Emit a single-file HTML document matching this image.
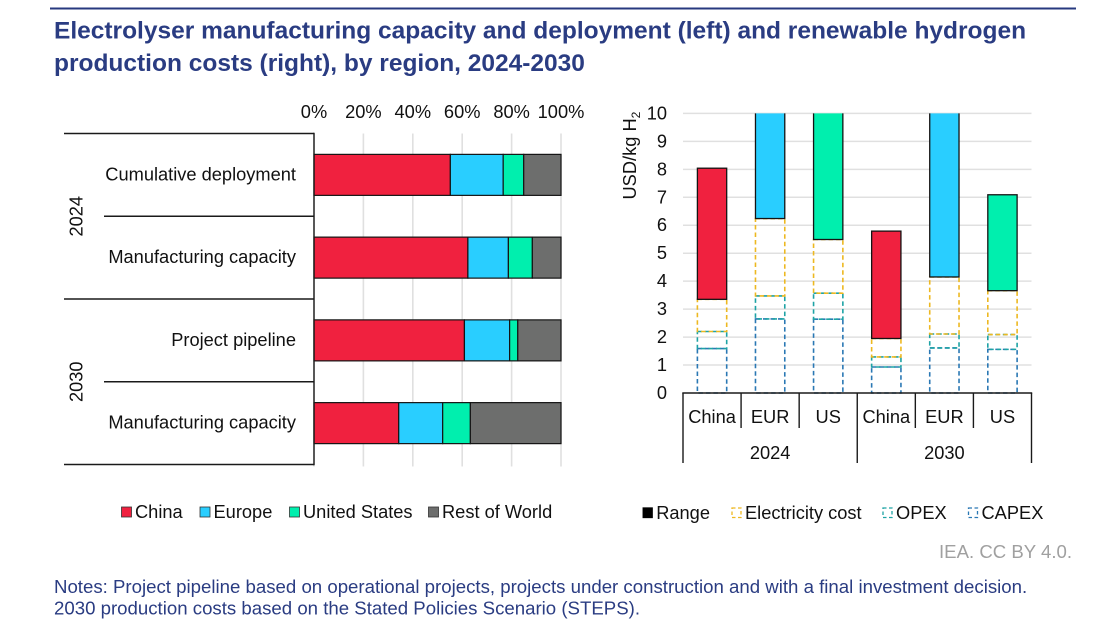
<!DOCTYPE html>
<html lang="en">
<head>
<meta charset="utf-8">
<title>Electrolyser manufacturing capacity and renewable hydrogen costs</title>
<style>
html,body{margin:0;padding:0;background:#fff;}
body{width:1108px;height:643px;overflow:hidden;}
svg{display:block;font-family:"Liberation Sans",Arial,sans-serif;}
text{fill:#111;font-size:18.25px;}
</style>
</head>
<body>
<svg id="root" width="1108" height="643" viewBox="0 0 1108 643" xmlns="http://www.w3.org/2000/svg">
  <line x1="50" y1="8.5" x2="1076" y2="8.5" stroke="#27397f" stroke-width="2"/>
  <text x="54" y="38.5" style="font-size:24.5px;font-weight:bold;fill:#2a3c82">Electrolyser manufacturing capacity and deployment (left) and renewable hydrogen</text>
  <text x="54" y="71" style="font-size:24.5px;font-weight:bold;fill:#2a3c82">production costs (right), by region, 2024-2030</text>
  <g id="left-chart"></g>
  <g id="right-chart"></g>
  <text x="1072" y="558" text-anchor="end" style="font-size:18.6px;fill:#a0a0a0">IEA. CC BY 4.0.</text>
  <text x="54" y="593" style="font-size:18.64px;fill:#2a3c82">Notes: Project pipeline based on operational projects, projects under construction and with a final investment decision.</text>
  <text x="54" y="614.5" style="font-size:18.64px;fill:#2a3c82">2030 production costs based on the Stated Policies Scenario (STEPS).</text>
</svg>
<script>
// ---- Left chart data (percent share) ----
var shareCategories = ['Cumulative deployment', 'Manufacturing capacity', 'Project pipeline', 'Manufacturing capacity'];
var shareYears = ['2024', '2030'];
var shareTicks = [0, 20, 40, 60, 80, 100];
var shareRegions = ['China', 'Europe', 'United States', 'Rest of World'];
var shareChina = [55.2, 62.3, 60.9, 34.3];
var shareEurope = [21.4, 16.4, 18.3, 17.8];
var shareUS = [8.3, 9.7, 3.3, 11.2];
var shareRest = [15.1, 11.6, 17.5, 36.7];

// ---- Right chart data (USD/kg H2) ----
var costRegions = ['China', 'EUR', 'US', 'China', 'EUR', 'US'];
var costYears = ['2024', '2030'];
var costTicks = [0, 1, 2, 3, 4, 5, 6, 7, 8, 9, 10];
var costCapex = [1.59, 2.65, 2.64, 0.93, 1.61, 1.56];
var costOpex = [0.61, 0.82, 0.93, 0.36, 0.50, 0.53];
var costElectricity = [1.15, 2.77, 1.92, 0.66, 2.04, 1.57];
var costRange = [4.69, 6.5, 7.0, 3.84, 8.5, 3.43];

var NS = 'http://www.w3.org/2000/svg';
var regionColors = ['#f0213f', '#29ceff', '#00efae', '#6d6e6d'];
var rangeColors = ['#f0213f', '#29ceff', '#00efae', '#f0213f', '#29ceff', '#00efae'];

function make(parent, tag, attrs, content) {
  var el = document.createElementNS(NS, tag);
  for (var k in attrs) el.setAttribute(k, attrs[k]);
  if (content !== undefined) el.textContent = content;
  parent.appendChild(el);
  return el;
}

// ---------- LEFT CHART ----------
var L = document.getElementById('left-chart');
var lx0 = 314, lx1 = 561, ly0 = 133.5, ly1 = 464.5;
function xShare(v) { return lx0 + (lx1 - lx0) * v / 100; }
var rowH = (ly1 - ly0) / shareCategories.length;
function yRow(i) { return ly0 + rowH * (i + 0.5); }

shareTicks.forEach(function (t) {
  var g = make(L, 'line', {x1: xShare(t), x2: xShare(t), y1: ly0, y2: ly1 + 2, stroke: '#e0e0e0', 'stroke-width': 1.6});
  
  
  var tl = make(L, 'text', {x: xShare(t), y: 118, 'text-anchor': 'middle'}, t + '%');
  
  
});

var shareSeries = [shareChina, shareEurope, shareUS, shareRest];
shareCategories.forEach(function (c, i) {
  var acc = 0;
  shareSeries.forEach(function (s, j) {
    var r = make(L, 'rect', {x: xShare(acc), y: yRow(i) - 20.5, width: xShare(acc + s[i]) - xShare(acc), height: 41, fill: regionColors[j], stroke: '#141414', 'stroke-width': 1.2});
    
    
    acc += s[i];
  });
  var lab = make(L, 'text', {x: 296, y: yRow(i) + 5.5, 'text-anchor': 'end'}, c);
  
  
});

[[64, 0], [104, 1], [64, 2], [104, 3], [64, 4]].forEach(function (p) {
  var y = ly0 + rowH * p[1];
  var ln = make(L, 'line', {x1: p[0], x2: lx0, y1: y, y2: y, stroke: '#1a1a1a', 'stroke-width': 1.4});
  
  
});
var lAxis = make(L, 'line', {x1: lx0, x2: lx0, y1: ly0 - 0.7, y2: ly1 + 0.7, stroke: '#1a1a1a', 'stroke-width': 1.4});



shareYears.forEach(function (yr, i) {
  var cy = ly0 + rowH * (2 * i + 1);
  var t = make(L, 'text', {x: 0, y: 0, 'text-anchor': 'middle', transform: 'translate(82.5,' + cy + ') rotate(-90)'}, yr);
  
  
});

var lLegX = [121.5, 200, 289.5, 428.5];
shareRegions.forEach(function (n, i) {
  var s = make(L, 'rect', {x: lLegX[i], y: 507, width: 10, height: 10, fill: regionColors[i], stroke: '#333', 'stroke-width': 0.8});
  
  
  var t = make(L, 'text', {x: lLegX[i] + 13.5, y: 518}, n);
  
  
});

// ---------- RIGHT CHART ----------
var R = document.getElementById('right-chart');
var rx0 = 683, rx1 = 1031.5, ry0 = 393, ry1 = 113.4, yMax = 10;
var catW = (rx1 - rx0) / costRegions.length;
var barW = 29.3;
function yCost(v) { return ry0 + (ry1 - ry0) * Math.min(v, yMax) / yMax; }
function xCat(i) { return rx0 + catW * (i + 0.5); }

var defs = make(R, 'defs', {});
var cp = make(defs, 'clipPath', {id: 'plot-clip'});
make(cp, 'rect', {x: rx0, y: ry1, width: rx1 - rx0, height: ry0 - ry1 + 2});

costTicks.forEach(function (t) {
  if (t > 0) {
    var g = make(R, 'line', {x1: rx0, x2: rx1, y1: yCost(t), y2: yCost(t), stroke: '#e0e0e0', 'stroke-width': 1.5});
    
    
  }
  var tl = make(R, 'text', {x: 667, y: yCost(t) + 6, 'text-anchor': 'end'}, String(t));
  
  
});

var yTitle = make(R, 'text', {x: 0, y: 0, transform: 'translate(636,199.5) rotate(-90)'});


make(yTitle, 'tspan', {}, 'USD/kg H');
make(yTitle, 'tspan', {dy: 4, style: 'font-size:12px'}, '2');

var clipG = make(R, 'g', {'clip-path': 'url(#plot-clip)'});
var dashStyles = [
  {vals: costCapex, color: '#2a78b4'},
  {vals: costOpex, color: '#1ea3a5'},
  {vals: costElectricity, color: '#edb821'}
];
costRegions.forEach(function (c, i) {
  var base = 0;
  dashStyles.forEach(function (d) {
    var top = base + d.vals[i];
    var r = make(clipG, 'rect', {x: xCat(i) - barW / 2, y: yCost(top), width: barW, height: yCost(base) - yCost(top), fill: 'none', stroke: d.color, 'stroke-width': 1.6, 'stroke-dasharray': '4.5 3'});
    
    
    base = top;
  });
  var end = base + costRange[i];
  var h = ry0 + (ry1 - ry0) * end / yMax;
  var b = make(clipG, 'rect', {x: xCat(i) - barW / 2, y: h, width: barW, height: yCost(base) - h, fill: rangeColors[i], stroke: '#141414', 'stroke-width': 1.3});
  
  
  var t = make(R, 'text', {x: xCat(i), y: 423, 'text-anchor': 'middle'}, c);
  
  
});

var rAxis = make(R, 'line', {x1: rx0 - 0.7, x2: rx1 + 0.7, y1: ry0, y2: ry0, stroke: '#1a1a1a', 'stroke-width': 1.4});


costRegions.forEach(function (c, i) {
  var x = rx0 + catW * i;
  var ln = make(R, 'line', {x1: x, x2: x, y1: ry0, y2: i % 3 === 0 ? 463 : 428, stroke: '#1a1a1a', 'stroke-width': 1.4});
  
  
});
var endTick = make(R, 'line', {x1: rx1, x2: rx1, y1: ry0, y2: 463, stroke: '#1a1a1a', 'stroke-width': 1.4});


costYears.forEach(function (yr, i) {
  var t = make(R, 'text', {x: rx0 + catW * (3 * i + 1.5), y: 459, 'text-anchor': 'middle'}, yr);
  
  
});

var rLegNames = ['Range', 'Electricity cost', 'OPEX', 'CAPEX'];
var rLegX = [642.7, 731.5, 882.5, 968];
var rLegColors = ['#000000', '#edb821', '#1ea3a5', '#2a78b4'];
rLegNames.forEach(function (n, i) {
  var s = make(R, 'rect', {x: rLegX[i] + 0.5, y: 508, width: 9, height: 9.5, fill: i === 0 ? '#000' : 'none', stroke: rLegColors[i], 'stroke-width': 1.3, 'stroke-dasharray': i === 0 ? 'none' : '3.5 2.5'});
  
  
  var t = make(R, 'text', {x: rLegX[i] + 13.5, y: 519}, n);
  
  
});
</script>
</body>
</html>
